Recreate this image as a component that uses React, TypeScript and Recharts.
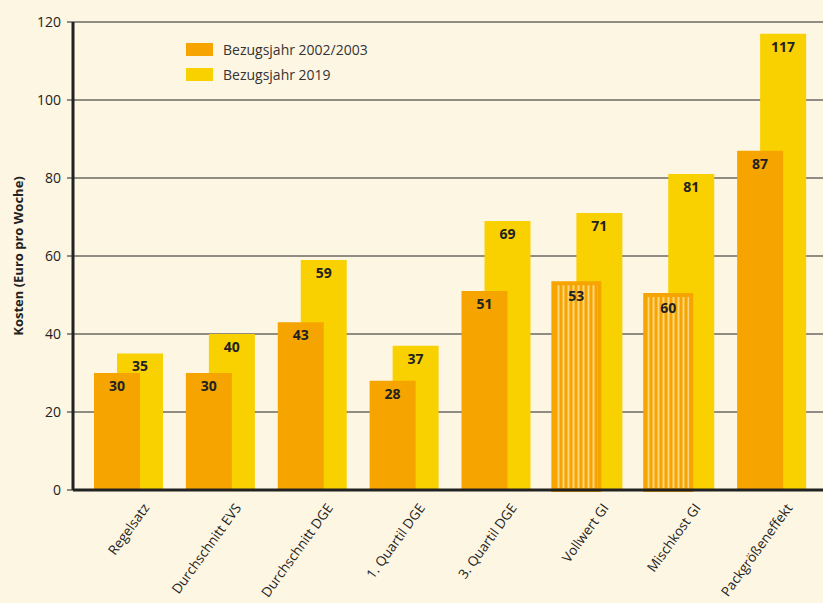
import React from "react";
import {
  BarChart,
  Bar,
  XAxis,
  YAxis,
  CartesianGrid,
  LabelList,
  Label,
  Cell,
} from "recharts";

const categories = [
  "Regelsatz",
  "Durchschnitt EVS",
  "Durchschnitt DGE",
  "1. Quartil DGE",
  "3. Quartil DGE",
  "Vollwert GI",
  "Mischkost GI",
  "Packgrößeneffekt",
];
const values2003 = [30, 30, 43, 28, 51, 53, 50, 87];
const labels2003 = ["30", "30", "43", "28", "51", "53", "60", "87"];
const values2019 = [35, 40, 59, 37, 69, 71, 81, 117];
const striped = [false, false, false, false, false, true, true, false];
const yTicks = [0, 20, 40, 60, 80, 100, 120];

const ORANGE = "#f5a400";
const YELLOW = "#f9d100";
const BG = "#fdf6e3";
const INK = "#222";
const FONT = "'Open Sans', sans-serif";

const seriesInfo = [
  { name: "Bezugsjahr 2002/2003", color: ORANGE },
  { name: "Bezugsjahr 2019", color: YELLOW },
];

const data = categories.map((c, i) => ({
  name: c,
  v2003: values2003[i],
  l2003: labels2003[i],
  v2019: values2019[i],
}));

const XTick = ({ x, y, payload }: any) => (
  <g transform={`translate(${x + 21},${y + 16})`}>
    <text
      textAnchor="end"
      transform="rotate(-54)"
      fontSize={13.5}
      fill={INK}
      fontFamily={FONT}
    >
      {payload.value}
    </text>
  </g>
);

const LegendBox = () => (
  <div
    style={{
      position: "absolute",
      left: 186,
      top: 37,
      fontFamily: FONT,
      fontSize: 14,
      color: "#333",
    }}
  >
    {seriesInfo.map((s) => (
      <div key={s.name} style={{ display: "flex", alignItems: "center", height: 25 }}>
        <span style={{ width: 27, height: 13, background: s.color, marginRight: 10 }} />
        <span>{s.name}</span>
      </div>
    ))}
  </div>
);

export default function App() {
  return (
    <div style={{ position: "absolute", left: 0, top: 0, width: 823, height: 603, background: BG }}>
      <BarChart
        width={823}
        height={603}
        data={data}
        margin={{ top: 22, right: 0, bottom: 0, left: 0 }}
        barSize={46}
        barGap={-69}
      >
        <defs>
          <pattern id="stripes" width="5" height="10" patternUnits="userSpaceOnUse">
            <rect width="5" height="10" fill={ORANGE} />
            <rect x="2.5" width="2" height="10" fill="#fcd77e" />
          </pattern>
        </defs>
        <CartesianGrid horizontal vertical={false} stroke={INK} strokeWidth={1} />
        <XAxis
          dataKey="name"
          interval={0}
          height={113}
          tick={<XTick />}
          tickLine={false}
          tickSize={0}
          axisLine={{ stroke: INK, strokeWidth: 3 }}
          padding={{ left: 10, right: 5 }}
        />
        <YAxis
          width={73}
          domain={[0, 120]}
          ticks={yTicks}
          tick={{ fontSize: 14, fill: INK, fontFamily: FONT }}
          tickLine={{ stroke: INK }}
          tickSize={6}
          tickMargin={6}
          axisLine={{ stroke: INK, strokeWidth: 3 }}
        >
          <Label
            value="Kosten (Euro pro Woche)"
            angle={-90}
            position="insideLeft"
            offset={18}
            style={{ fontSize: 13, fontWeight: 700, fill: INK, fontFamily: FONT, textAnchor: "middle" }}
          />
        </YAxis>
        <Bar dataKey="v2019" fill={YELLOW} isAnimationActive={false}>
          <LabelList
            dataKey="v2019"
            position="insideTop"
            offset={8}
            style={{ fontSize: 14, fontWeight: 700, fill: INK, fontFamily: FONT }}
          />
        </Bar>
        <Bar dataKey="v2003" fill={ORANGE} isAnimationActive={false}>
          {striped.map((s, i) => (
            <Cell
              key={i}
              fill={s ? "url(#stripes)" : ORANGE}
              stroke={s ? ORANGE : "none"}
              strokeWidth={s ? 4 : 0}
            />
          ))}
          <LabelList
            dataKey="l2003"
            position="insideTop"
            offset={8}
            style={{ fontSize: 14, fontWeight: 700, fill: INK, fontFamily: FONT }}
          />
        </Bar>
      </BarChart>
      <LegendBox />
    </div>
  );
}
